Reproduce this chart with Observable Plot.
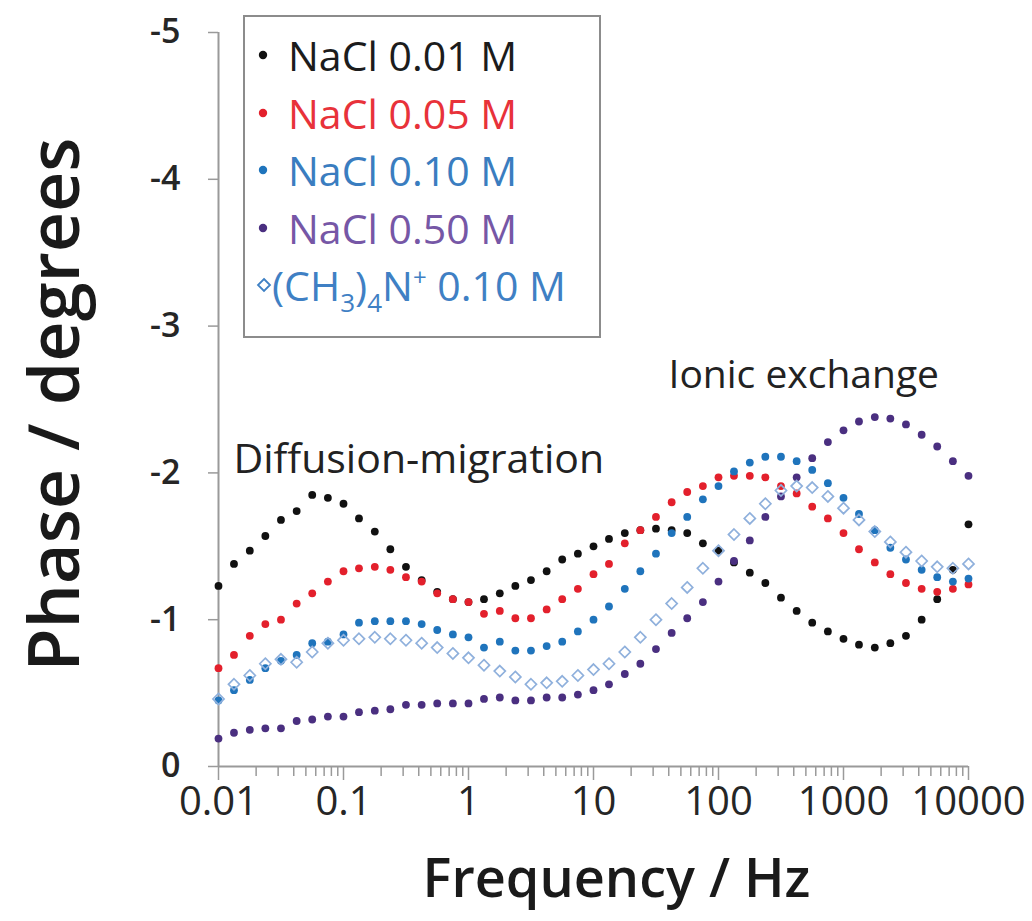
<!DOCTYPE html>
<html><head><meta charset="utf-8">
<script src="https://cdn.jsdelivr.net/npm/d3@7"></script>
<script src="https://cdn.jsdelivr.net/npm/@observablehq/plot@0.6"></script>
<style>
body{margin:0;background:#fff;}
#wrap{position:relative;width:1032px;height:921px;font-family:"Open Sans",sans-serif;}
#legendBox{position:absolute;left:243px;top:15px;width:354px;height:319px;border:2px solid #8c8c8c;background:#fff;}
.row{position:absolute;height:46px;line-height:46px;font-size:41px;white-space:nowrap;}
.row sub{font-size:26px;vertical-align:-11px;line-height:0;}
.row sup{font-size:24px;vertical-align:15px;line-height:0;}
.mk{position:absolute;}
</style></head><body><div id="wrap"></div>
<script>
// Frequencies (Hz), 8 points per decade
const freqHz = [0.01,0.0133,0.0178,0.0237,0.0316,0.0422,0.0562,0.075,
  0.1,0.133,0.178,0.237,0.316,0.422,0.562,0.75,
  1,1.33,1.78,2.37,3.16,4.22,5.62,7.5,
  10,13.3,17.8,23.7,31.6,42.2,56.2,75,
  100,133,178,237,316,422,562,750,
  1000,1330,1780,2370,3160,4220,5620,7500,10000];

// Phase / degrees
const nacl001 = [-1.23,-1.38,-1.47,-1.57,-1.68,-1.74,-1.85,-1.83,
  -1.79,-1.69,-1.60,-1.48,-1.36,-1.27,-1.19,-1.14,
  -1.12,-1.14,-1.18,-1.23,-1.27,-1.33,-1.41,-1.45,
  -1.50,-1.55,-1.59,-1.61,-1.62,-1.61,-1.59,-1.52,
  -1.47,-1.39,-1.32,-1.25,-1.15,-1.06,-0.98,-0.92,
  -0.87,-0.83,-0.81,-0.84,-0.89,-1.00,-1.14,-1.34,-1.65];
const nacl005 = [-0.67,-0.76,-0.89,-0.97,-1.00,-1.11,-1.18,-1.26,
  -1.33,-1.35,-1.36,-1.34,-1.29,-1.26,-1.18,-1.14,
  -1.12,-1.04,-1.06,-1.01,-1.01,-1.07,-1.14,-1.21,
  -1.31,-1.38,-1.52,-1.61,-1.70,-1.80,-1.87,-1.91,
  -1.97,-1.98,-1.98,-1.97,-1.91,-1.86,-1.77,-1.69,
  -1.59,-1.48,-1.39,-1.31,-1.25,-1.21,-1.19,-1.21,-1.24];
const nacl010 = [-0.45,-0.52,-0.59,-0.67,-0.72,-0.76,-0.84,-0.85,
  -0.90,-0.98,-0.99,-0.99,-0.99,-0.97,-0.93,-0.90,
  -0.88,-0.81,-0.85,-0.79,-0.79,-0.82,-0.85,-0.92,
  -1.00,-1.09,-1.21,-1.33,-1.45,-1.59,-1.70,-1.82,
  -1.91,-2.01,-2.07,-2.11,-2.11,-2.08,-2.02,-1.93,
  -1.83,-1.72,-1.61,-1.49,-1.41,-1.34,-1.29,-1.26,-1.28];
const nacl050 = [-0.19,-0.23,-0.25,-0.26,-0.26,-0.31,-0.32,-0.34,
  -0.34,-0.37,-0.38,-0.39,-0.42,-0.42,-0.43,-0.43,
  -0.43,-0.46,-0.47,-0.45,-0.45,-0.47,-0.47,-0.49,
  -0.52,-0.56,-0.63,-0.70,-0.80,-0.91,-1.01,-1.12,
  -1.26,-1.40,-1.54,-1.70,-1.84,-1.97,-2.10,-2.21,
  -2.29,-2.35,-2.38,-2.37,-2.33,-2.26,-2.18,-2.08,-1.98];
const tma010 = [-0.46,-0.56,-0.62,-0.70,-0.73,-0.71,-0.78,-0.84,
  -0.86,-0.87,-0.88,-0.87,-0.86,-0.84,-0.81,-0.77,
  -0.74,-0.69,-0.65,-0.61,-0.56,-0.57,-0.58,-0.62,
  -0.66,-0.70,-0.78,-0.88,-1.00,-1.11,-1.22,-1.35,
  -1.47,-1.58,-1.69,-1.79,-1.88,-1.91,-1.90,-1.84,
  -1.76,-1.68,-1.60,-1.53,-1.46,-1.40,-1.36,-1.35,-1.38];

const seriesNames = ["NaCl 0.01 M","NaCl 0.05 M","NaCl 0.10 M","NaCl 0.50 M","(CH3)4N+ 0.10 M"];
const seriesValues = [nacl001, nacl005, nacl010, nacl050, tma010];
const markerColors = ["#111111","#e3202c","#1f74bc","#4a2f80","#8fb0dc"];
const labelColors = ["#1c1c1c","#e8323a","#3a7dc0","#7657a6","#3f80c4"];
const filled = [true,true,true,true,false];

const xTicks = [0.01,0.1,1,10,100,1000,10000];
const xTickLabels = ["0.01","0.1","1","10","100","1000","10000"];
const yTicks = [0,-1,-2,-3,-4,-5];
const yTickLabels = ["0","-1","-2","-3","-4","-5"];
const minorMultipliers = [2,3,4,5,6,7,8,9];
const minorTicks = xTicks.slice(0,-1).flatMap(d => minorMultipliers.map(m => d*m));

const annotations = ["Diffusion-migration","Ionic exchange"];
const xTitle = "Frequency / Hz";
const yTitle = "Phase / degrees";

const rows = seriesValues.map((vals,s) => freqHz.map((f,i) => ({f, p: vals[i], s})));
const xTickData = xTicks.map((t,i) => ({t, label: xTickLabels[i]}));

const axisGray = "#9a9a9a";
const marks = [
  Plot.ruleY([0], {stroke: axisGray, strokeWidth: 2}),
  Plot.ruleX([0.01], {stroke: axisGray, strokeWidth: 2}),
  Plot.axisX({ticks: minorTicks, tickSize: 10, tickFormat: () => "", stroke: axisGray, strokeWidth: 1.5, label: null}),
  Plot.axisX({ticks: xTicks, tickSize: 14, tickFormat: () => "", stroke: axisGray, strokeWidth: 1.5, label: null}),
  Plot.text(xTickData, {x: "t", text: "label", frameAnchor: "bottom", textAnchor: "middle", lineAnchor: "top", dy: 20, fontSize: 40, fill: "#262626"}),
  Plot.axisY({ticks: yTicks, tickSize: 10, tickPadding: 28, tickFormat: d => yTickLabels[yTicks.indexOf(d)], fontSize: 34, fontWeight: 600, fill: "#262626", stroke: axisGray, strokeWidth: 1.5, label: null}),
];
rows.forEach((data, s) => {
  if (filled[s]) marks.push(Plot.dot(data, {x: "f", y: "p", r: 3.9, fill: markerColors[s], stroke: "none"}));
  else marks.push(Plot.dot(data, {x: "f", y: "p", r: 5, symbol: "diamond2", fill: "none", stroke: markerColors[s], strokeWidth: 1.7}));
});
marks.push(
  Plot.text([annotations[0]], {text: d => d, frameAnchor: "top-left", textAnchor: "start", lineAnchor: "middle", dx: 15, dy: 427, fontSize: 41, fill: "#222"}),
  Plot.text([annotations[1]], {text: d => d, frameAnchor: "top-left", textAnchor: "start", lineAnchor: "middle", dx: 450, dy: 343, fontSize: 39, fill: "#222"}),
  Plot.text([xTitle], {text: d => d, frameAnchor: "bottom", textAnchor: "middle", lineAnchor: "middle", dx: 23, dy: 113, fontSize: 54, fontWeight: 600, fill: "#1a1a1a"}),
  Plot.text([yTitle], {text: d => d, frameAnchor: "left", textAnchor: "middle", lineAnchor: "middle", rotate: -90, dx: -162, dy: 5, fontSize: 70, fontWeight: 600, fill: "#1a1a1a"})
);

const chart = Plot.plot({
  width: 1032, height: 921,
  marginLeft: 218, marginRight: 64, marginTop: 32, marginBottom: 155,
  style: {fontFamily: "'Open Sans', sans-serif", background: "#fff", overflow: "visible"},
  x: {type: "log", domain: [0.01, 10000]},
  y: {domain: [0, -5]},
  marks
});
const wrap = document.getElementById("wrap");
wrap.appendChild(chart);

// Legend (inside plot area, as in the reference)
const box = document.createElement("div");
box.id = "legendBox";
wrap.appendChild(box);
seriesNames.forEach((name, i) => {
  const cy = 55 + i * 57.5;
  const mk = document.createElementNS("http://www.w3.org/2000/svg", "svg");
  mk.setAttribute("class", "mk");
  mk.setAttribute("width", 16); mk.setAttribute("height", 16);
  mk.style.left = (filled[i] ? 255 : 256) + "px";
  mk.style.top = (cy - 8) + "px";
  if (filled[i]) {
    const c = document.createElementNS("http://www.w3.org/2000/svg", "circle");
    c.setAttribute("cx", 8); c.setAttribute("cy", 8); c.setAttribute("r", 4.2);
    c.setAttribute("fill", markerColors[i]);
    mk.appendChild(c);
  } else {
    const p = document.createElementNS("http://www.w3.org/2000/svg", "polygon");
    p.setAttribute("points", "8,2 14,8 8,14 2,8");
    p.setAttribute("fill", "none"); p.setAttribute("stroke", labelColors[i]); p.setAttribute("stroke-width", 1.8);
    mk.appendChild(p);
  }
  wrap.appendChild(mk);
  const row = document.createElement("div");
  row.className = "row";
  row.style.left = (filled[i] ? 288 : 272) + "px";
  row.style.top = (cy - 23) + "px";
  row.style.color = labelColors[i];
  if (filled[i]) row.textContent = name;
  else row.innerHTML = "(CH<sub>3</sub>)<sub>4</sub>N<sup>+</sup> 0.10 M";
  wrap.appendChild(row);
});
</script></body></html>
